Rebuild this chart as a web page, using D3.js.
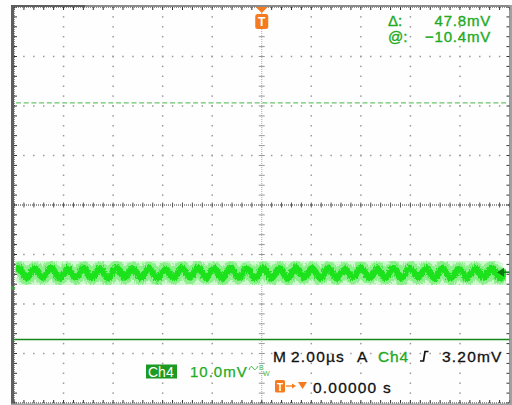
<!DOCTYPE html>
<html>
<head>
<meta charset="utf-8">
<script src="https://cdn.jsdelivr.net/npm/d3@7"></script>
<style>
body { margin: 0; background: #fff; }
svg { display: block; }
text { font-family: "Liberation Sans", Arial, Helvetica, sans-serif; }
</style>
</head>
<body>
<script>
// Ch4 trace: crest / trough samples (time in µs, level in mV)
var traceT = [-9.98, -9.82, -9.49, -9.16, -8.83, -8.50, -8.17, -7.84, -7.51, -7.19, -6.86,
  -6.53, -6.20, -5.87, -5.54, -5.21, -4.88, -4.55, -4.22, -3.89, -3.56, -3.23, -2.90,
  -2.58, -2.25, -1.92, -1.59, -1.26, -0.93, -0.60, -0.27, 0.06, 0.39, 0.72, 1.05,
  1.37, 1.70, 2.03, 2.36, 2.69, 3.02, 3.35, 3.68, 4.01, 4.34, 4.67, 5.00, 5.32, 5.65,
  5.98, 6.31, 6.64, 6.97, 7.30, 7.63, 7.96, 8.29, 8.62, 8.95, 9.27, 9.60, 9.86];
var traceMv = [3.4, 4.1, 2.0, 4.0, 2.1, 4.2, 1.9, 3.9, 2.1, 4.1, 2.0,
  4.0, 1.9, 4.2, 2.1, 4.0, 2.0, 4.1, 1.9, 3.9, 2.0, 4.1, 2.1,
  4.2, 2.0, 4.0, 1.9, 4.1, 2.1, 3.9, 2.0, 4.1, 2.0, 4.0, 1.9,
  4.2, 2.1, 4.0, 2.0, 4.1, 1.9, 3.9, 2.1, 4.1, 2.0, 4.0, 2.0,
  4.2, 1.9, 4.1, 2.1, 4.0, 2.0, 4.1, 1.9, 3.9, 2.0, 4.0, 2.1, 4.1, 2.0, 3.7];

// cursors, trigger level, ground (mV)
var cursorDashedMv = 37.4;
var cursorSolidMv = -10.4;
var triggerMv = 3.2;
var groundMv = 0;

// screen: 10 x 8 divisions, 2 µs/div and 10 mV/div, centre of screen at 16.77 mV
var timeDomain = [-10, 10];
var centreMv = 16.77;
var mvPerDiv = 10;

// readouts
var readLabels = ["\u0394:", "@:"];
var readValues = ["47.8mV", "\u221210.4mV"];
var chName = "Ch4";
var chScale = "10.0mV";
var timebase = ["M", "2.00\u00b5s", "A"];
var trigLevel = "3.20mV";
var trigPos = "0.00000 s";

var W = 512, H = 405;
var gLeft = 14, gRight = 509.5, gTop = 7, gBottom = 403;

var svg = d3.select("body").append("svg")
  .attr("width", W)
  .attr("height", H);

svg.append("rect").attr("width", W).attr("height", H).attr("fill", "#fefefe");

var x = d3.scaleLinear().domain(timeDomain).range([gLeft, gRight]);
var y = d3.scaleLinear()
  .domain([centreMv - 4 * mvPerDiv, centreMv + 4 * mvPerDiv])
  .range([gBottom, gTop]);

var xMajor = d3.range(timeDomain[0], timeDomain[1] + 0.01, 2);
var xMinor = d3.range(timeDomain[0], timeDomain[1] + 0.01, 0.4);
var yMajor = d3.range(-4, 4.01, 1).map(function(k) { return centreMv + k * mvPerDiv; });
var yMinor = d3.range(-20, 20.01, 1).map(function(k) { return centreMv + k * mvPerDiv / 5; });

var grid = svg.append("g");
var dotColor = "#9a9a9a";

// dotted graticule lines
xMajor.slice(1, -1).forEach(function(t) {
  if (t === 0) return;
  grid.selectAll(null).data(yMinor).enter().append("rect")
    .attr("x", x(t) - 0.75).attr("y", function(d) { return y(d) - 0.75; })
    .attr("width", 1.5).attr("height", 1.5).attr("fill", dotColor);
});
yMajor.slice(1, -1).forEach(function(v, i) {
  if (i === 3) return;
  grid.selectAll(null).data(xMinor).enter().append("rect")
    .attr("x", function(d) { return x(d) - 0.75; }).attr("y", y(v) - 0.75)
    .attr("width", 1.5).attr("height", 1.5).attr("fill", dotColor);
});

// centre cross
var cy = y(centreMv), cx = x(0);
grid.append("line").attr("x1", gLeft).attr("x2", gRight).attr("y1", cy).attr("y2", cy)
  .attr("stroke", "#333").attr("stroke-dasharray", "1,1");
grid.selectAll(null).data(xMinor).enter().append("line")
  .attr("x1", function(d) { return x(d); }).attr("x2", function(d) { return x(d); })
  .attr("y1", cy - 2.5).attr("y2", cy + 2.5).attr("stroke", "#555");
grid.append("line").attr("x1", cx).attr("x2", cx).attr("y1", gTop).attr("y2", gBottom)
  .attr("stroke", "#aaa").attr("stroke-dasharray", "1,1");
grid.selectAll(null).data(yMinor).enter().append("line")
  .attr("x1", cx - 3).attr("x2", cx + 3)
  .attr("y1", function(d) { return y(d); }).attr("y2", function(d) { return y(d); })
  .attr("stroke", "#999");

// border with ticks
grid.append("rect").attr("x", gLeft).attr("y", gTop)
  .attr("width", gRight - gLeft).attr("height", gBottom - gTop)
  .attr("fill", "none").attr("stroke", "#222").attr("stroke-dasharray", "1,1");
grid.selectAll(null).data(xMinor).enter().append("line")
  .attr("x1", function(d) { return x(d); }).attr("x2", function(d) { return x(d); })
  .attr("y1", gTop).attr("y2", gTop + 3).attr("stroke", "#333");
grid.selectAll(null).data(xMinor).enter().append("line")
  .attr("x1", function(d) { return x(d); }).attr("x2", function(d) { return x(d); })
  .attr("y1", gBottom - 3).attr("y2", gBottom).attr("stroke", "#333");
grid.selectAll(null).data(yMinor).enter().append("line")
  .attr("x1", gLeft).attr("x2", gLeft + 3)
  .attr("y1", function(d) { return y(d); }).attr("y2", function(d) { return y(d); })
  .attr("stroke", "#333");
grid.selectAll(null).data(yMinor).enter().append("line")
  .attr("x1", gRight - 3).attr("x2", gRight)
  .attr("y1", function(d) { return y(d); }).attr("y2", function(d) { return y(d); })
  .attr("stroke", "#333");

// outer frame
svg.append("rect").attr("x", 11).attr("y", 5).attr("width", 3).attr("height", H - 5).attr("fill", "#5e5e5e");
svg.append("rect").attr("x", 11).attr("y", 5).attr("width", W - 11).attr("height", 2).attr("fill", "#8a8a8a");
svg.append("rect").attr("x", 11).attr("y", 5).attr("width", 74).attr("height", 2).attr("fill", "#5e5e5e");
svg.append("rect").attr("x", gRight).attr("y", 5).attr("width", W - gRight).attr("height", H - 5).attr("fill", "#a0a0a0");
svg.append("rect").attr("x", 11).attr("y", gBottom + 0.5).attr("width", W - 11).attr("height", H - gBottom).attr("fill", "#a0a0a0");

// cursors
svg.append("line").attr("x1", gLeft + 2).attr("x2", gRight - 2)
  .attr("y1", y(cursorDashedMv)).attr("y2", y(cursorDashedMv))
  .attr("stroke", "#6cc46c").attr("stroke-width", 1.3).attr("stroke-dasharray", "5,2.7");
svg.append("line").attr("x1", gLeft).attr("x2", gRight)
  .attr("y1", y(cursorSolidMv)).attr("y2", y(cursorSolidMv))
  .attr("stroke", "#14861a").attr("stroke-width", 1.3);

// trace
var defs = svg.append("defs");
defs.append("clipPath").attr("id", "scr").append("rect")
  .attr("x", gLeft + 1.5).attr("y", gTop).attr("width", gRight - gLeft - 5).attr("height", gBottom - gTop);
var f = defs.append("filter").attr("id", "fuzz").attr("x", "-5%").attr("y", "-50%")
  .attr("width", "110%").attr("height", "200%");
f.append("feTurbulence").attr("type", "fractalNoise").attr("baseFrequency", "0.9 0.35")
  .attr("numOctaves", 2).attr("seed", 5).attr("result", "n");
f.append("feDisplacementMap").attr("in", "SourceGraphic").attr("in2", "n")
  .attr("scale", 5).attr("xChannelSelector", "R").attr("yChannelSelector", "G")
  .attr("result", "d");
f.append("feGaussianBlur").attr("in", "d").attr("stdDeviation", 0.5);

var pts = traceT.map(function(t, i) { return [x(t), y(traceMv[i])]; });
var line = d3.line().curve(d3.curveMonotoneX);
var trace = svg.append("g").attr("clip-path", "url(#scr)")
  .append("g").attr("filter", "url(#fuzz)");
trace.append("path").attr("d", line(pts)).attr("fill", "none")
  .attr("stroke", "#d2f8d2").attr("stroke-width", 20);
trace.append("path").attr("d", line(pts)).attr("fill", "none")
  .attr("stroke", "#8cef8c").attr("stroke-width", 13);
trace.append("path").attr("d", line(pts)).attr("fill", "none")
  .attr("stroke", "#1ee21e").attr("stroke-width", 6.5);

// ground marker and trigger level marker
var gy = y(groundMv);
svg.append("path").attr("d", "M11," + (gy - 3) + "L15.5," + gy + "L11," + (gy + 3) + "Z").attr("fill", "#3a9a3a");
var ty = y(triggerMv);
svg.append("path").attr("d", "M497," + ty + "L504," + (ty - 4.5) + "L504," + (ty + 4.5) + "Z").attr("fill", "#0b7a12");
svg.append("line").attr("x1", 503).attr("x2", gRight).attr("y1", ty).attr("y2", ty)
  .attr("stroke", "#0b7a12").attr("stroke-width", 1.5);

// trigger position marker
var orange = "#f47b20";
svg.append("path").attr("d", "M" + (cx - 6) + ",7L" + (cx + 6) + ",7L" + cx + ",13Z").attr("fill", orange);
svg.append("rect").attr("x", cx - 6.5).attr("y", 14).attr("width", 13).attr("height", 15).attr("rx", 2.5).attr("fill", orange);
svg.append("text").attr("x", cx).attr("y", 26).attr("text-anchor", "middle")
  .attr("font-size", 12).attr("font-weight", "bold").attr("fill", "#fff").text("T");

// cursor readouts
var green = "#22aa22";
svg.selectAll(null).data(readLabels).enter().append("text")
  .attr("x", 388).attr("y", function(d, i) { return 26 + i * 15.5; })
  .attr("font-size", 15).attr("fill", green).attr("stroke", green).attr("stroke-width", 0.35)
  .text(function(d) { return d; });
svg.selectAll(null).data(readValues).enter().append("text")
  .attr("x", 491).attr("y", function(d, i) { return 26 + i * 15.5; })
  .attr("text-anchor", "end").attr("letter-spacing", 0.8)
  .attr("font-size", 15).attr("fill", green).attr("stroke", green).attr("stroke-width", 0.35)
  .text(function(d) { return d; });

// channel readout
svg.append("rect").attr("x", 146).attr("y", 364.5).attr("width", 31).attr("height", 14).attr("fill", "#1c9a22");
svg.append("text").attr("x", 148).attr("y", 376.5).attr("font-size", 14).attr("fill", "#fff").text(chName);
svg.append("text").attr("x", 190).attr("y", 377).attr("font-size", 15).attr("letter-spacing", 1)
  .attr("fill", green).attr("stroke", green).attr("stroke-width", 0.25).text(chScale);
svg.append("path").attr("d", "M249,370 Q251,364 253,368 T258,366").attr("fill", "none")
  .attr("stroke", "#4cbb4c").attr("stroke-width", 1);
svg.append("text").attr("x", 259).attr("y", 370).attr("font-size", 7).attr("fill", "#4cbb4c").text("B");
svg.append("text").attr("x", 263).attr("y", 376).attr("font-size", 7).attr("fill", "#4cbb4c").text("W");

// timebase / trigger readout
var black = "#111";
var sw = 0.3;
svg.append("text").attr("x", 273).attr("y", 361.5).attr("font-size", 15.5).attr("fill", black)
  .attr("stroke", black).attr("stroke-width", sw).text(timebase[0]);
svg.append("text").attr("x", 291).attr("y", 361.5).attr("font-size", 15.5).attr("letter-spacing", 1.2)
  .attr("fill", black).attr("stroke", black).attr("stroke-width", sw).text(timebase[1]);
svg.append("text").attr("x", 357).attr("y", 361.5).attr("font-size", 15.5).attr("fill", black)
  .attr("stroke", black).attr("stroke-width", sw).text(timebase[2]);
svg.append("text").attr("x", 378).attr("y", 361.5).attr("font-size", 15.5).attr("letter-spacing", 0.8)
  .attr("fill", green).attr("stroke", green).attr("stroke-width", sw).text(chName);
svg.append("path").attr("d", "M420,361L423.5,361L425,351.5L428.5,351.5").attr("fill", "none")
  .attr("stroke", black).attr("stroke-width", 1.7);
svg.append("text").attr("x", 442).attr("y", 361.5).attr("font-size", 15.5).attr("letter-spacing", 1.2)
  .attr("fill", black).attr("stroke", black).attr("stroke-width", sw).text(trigLevel);

svg.append("rect").attr("x", 275).attr("y", 380).attr("width", 10).attr("height", 12.5).attr("rx", 1.5).attr("fill", orange);
svg.append("text").attr("x", 280).attr("y", 390.5).attr("text-anchor", "middle").attr("font-size", 10)
  .attr("font-weight", "bold").attr("fill", "#fff").text("T");
svg.append("line").attr("x1", 286).attr("x2", 294).attr("y1", 386).attr("y2", 386).attr("stroke", orange).attr("stroke-width", 1.3);
svg.append("path").attr("d", "M292,383.5L296,386L292,388.5Z").attr("fill", orange);
svg.append("path").attr("d", "M298,382L307,382L302.5,389Z").attr("fill", orange);
svg.append("text").attr("x", 313).attr("y", 393).attr("font-size", 15.5).attr("letter-spacing", 1.2)
  .attr("fill", black).attr("stroke", black).attr("stroke-width", sw).text(trigPos);
</script>
</body>
</html>
